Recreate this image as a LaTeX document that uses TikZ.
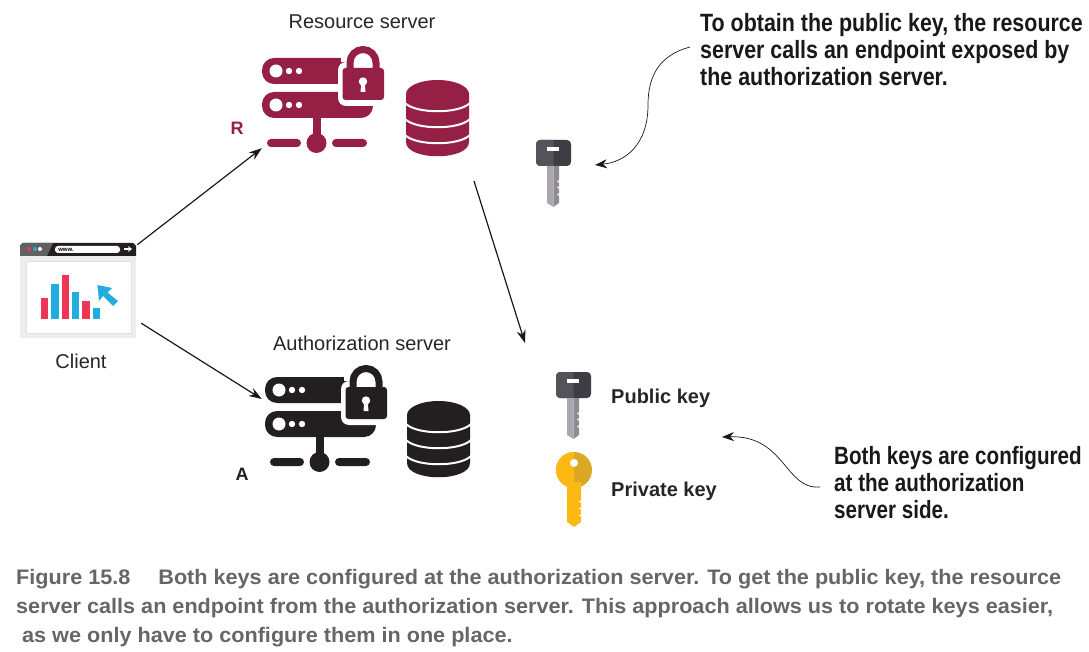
\documentclass[tikz,border=0pt]{standalone}
\usepackage{fontspec}
\setmainfont{Liberation Sans}
\newfontfamily\calloutfont[BoldFeatures={FakeStretch=.857}]{Liberation Sans}
\newfontfamily\sidenotefont[BoldFeatures={FakeStretch=.825}]{Liberation Sans}
\newfontfamily\captionfont[BoldFeatures={FakeStretch=1.03}]{Liberation Sans}
\usetikzlibrary{arrows.meta}

\definecolor{resred}{HTML}{951F45}
\definecolor{authblack}{HTML}{231F20}
\definecolor{chartred}{HTML}{EF3556}
\definecolor{chartblue}{HTML}{22ADDE}
\definecolor{headlight}{HTML}{55525A}
\definecolor{headdark}{HTML}{3E3C44}
\definecolor{shanklight}{HTML}{AAA8AE}
\definecolor{shankdark}{HTML}{8E8C92}
\definecolor{goldlight}{HTML}{FDB913}
\definecolor{golddark}{HTML}{DCA726}

\tikzset{
    iconlabel/.style={font=\fontsize{20}{24}\selectfont,text=black!85},
    keylabel/.style={font=\fontsize{20}{24}\selectfont\bfseries,text=black!85,anchor=west},
    letterlabel/.style={font=\fontsize{18}{22}\selectfont\bfseries},
    calloutlabel/.style={font=\fontsize{25}{27}\selectfont\calloutfont\bfseries,text=black!90,align=left,anchor=north west,inner sep=0pt},
    sidelabel/.style={font=\fontsize{25}{27}\selectfont\sidenotefont\bfseries,text=black!90,align=left,anchor=north west,inner sep=0pt},
    captionlabel/.style={font=\fontsize{21}{29}\selectfont\captionfont\bfseries,text=black!60,align=left,anchor=north west,inner sep=0pt},
    mainarrow/.style={-{Stealth[length=13pt,width=9pt]},line width=1.2pt,black!90},
    pics/serverbox/.style={code={
        \fill [#1,rounded corners=12] (90,12) -- (0,12) -- (0,38) -- (90,38) -- cycle;
        \fill [#1,rounded corners=12] (111,46) -- (0,46) -- (0,72) -- (111,72) -- cycle;
        \fill [#1] (111,46) rectangle (100,58);
        \foreach \y in {25,59} {
            \fill [white] (14,\y) circle (6.5);
            \fill [white] (27,\y) circle (3.2);
            \fill [white] (37,\y) circle (3.2);
        }
        \fill [white,rounded corners=8] (76,16) rectangle (130,60);
        \fill [white] (79,0) rectangle (130,16);
        \fill [white] (111,60) rectangle (130,75);
        \draw [#1,line width=7pt,rounded corners=13] (88,26) -- (88,3.5) -- (114,3.5) -- (114,26);
        \fill [#1,rounded corners=3] (80.5,22) rectangle (122,54);
        \fill [white] (101,35.5) circle (4.2);
        \fill [white] (99.3,36) -- (102.7,36) -- (103.5,46) -- (98.5,46) -- cycle;
        \fill [#1] (50.5,72) rectangle (58.5,95);
        \fill [#1] (54.5,97) circle (10);
        \fill [#1,rounded corners=4] (5,93) rectangle (39,101);
        \fill [#1,rounded corners=4] (70,93) rectangle (105,101);
    }},
    pics/databox/.style={code={
        \fill [#1] (0,14) -- (0,62) .. controls (0,81) and (63,81) .. (63,62) -- (63,14) -- cycle;
        \fill [#1] (31.5,14) ellipse (31.5 and 14);
        \foreach \y in {23,39,55}
            \draw [white,line width=2pt] (-1,\y) .. controls (10,\y+11) and (53,\y+11) .. (64,\y);
    }},
    pics/greykey/.style={code={
        \fill [headdark,rounded corners=4] (0,0) rectangle (35,26);
        \begin{scope}
            \clip (0,0) rectangle (17.5,26);
            \fill [headlight,rounded corners=4] (0,0) rectangle (35,26);
        \end{scope}
        \fill [white] (11,7) rectangle (23,11);
        \fill [shanklight] (11,26) -- (17.5,26) -- (17.5,67) -- (11,63) -- cycle;
        \fill [shankdark] (17.5,26) -- (23,26) -- (23,63) -- (17.5,67) -- cycle;
        \foreach \y in {40,46,53}
            \fill [white] (23.5,\y) -- (21,\y+1.5) -- (23.5,\y+3) -- cycle;
    }},
    pics/goldkey/.style={code={
        \fill [golddark] (18,18) circle (18);
        \begin{scope}
            \clip (0,0) rectangle (18,36);
            \fill [goldlight] (18,18) circle (18);
        \end{scope}
        \fill [white] (18,11) circle (4);
        \fill [goldlight] (11,30) -- (25,30) -- (25,70) -- (18,75) -- (11,70) -- cycle;
        \foreach \y in {48,55,62}
            \fill [white] (25.5,\y) -- (23,\y+1.5) -- (25.5,\y+3) -- cycle;
    }}
}

\begin{document}
\begin{tikzpicture}[x=1pt,y=-1pt]
    \useasboundingbox (0,0) rectangle (1089,652);

    % Client window
    \node (client) [minimum width=116pt,minimum height=95pt,inner sep=0pt,fill=black!7] at (78,290.5) {};
    \fill [authblack] (20,256) -- (20,246) -- (23,243) -- (133,243) -- (136,246) -- (136,256) -- cycle;
    \fill [black!62] (20,256) -- (20,246) -- (23,243) -- (53,243) -- (47,256) -- cycle;
    \fill [chartred] (29,249) circle (2);
    \fill [chartblue] (35,249) circle (2);
    \fill [white] (40,249) circle (2);
    \fill [white,rounded corners=3] (55,246) rectangle (120,253);
    \node (www) [font=\fontsize{6}{6}\selectfont\bfseries,inner sep=0pt] at (66,249.5) {www.};
    \draw [white,line width=1.4pt,-{Stealth[length=4pt,width=6pt]}] (124,249) -- (132,249);
    \draw [black!12,fill=white] (26,261) rectangle (131,333);
    \foreach \x/\w/\t/\c in {41/7/298/chartred,51/8/284/chartblue,62/7/275/chartred,72/7/292/chartblue,82/8/301/chartred,93/7/308/chartblue}
        \fill [\c] (\x,\t) rectangle (\x+\w,319);
    \fill [chartblue] (97.5,285) -- (112,288) -- (107.5,292.5) -- (118,301) -- (113,306) -- (103,296) -- (99,301) -- cycle;

    % Servers
    \node (rserver) [minimum width=122pt,minimum height=106pt,inner sep=0pt] at (323,99) {};
    \pic at (262,46) {serverbox=resred};
    \pic at (406,80) {databox=resred};
    \node (aserver) [minimum width=122pt,minimum height=106pt,inner sep=0pt] at (326,416) {};
    \pic at (265,365) {serverbox=authblack};
    \pic at (407,401) {databox=authblack};

    % Keys
    \pic at (536,140) {greykey};
    \pic at (556,372) {greykey};
    \pic at (556,452) {goldkey};

    \node (rname) [iconlabel] at (362,22) {Resource server};
    \node (aname) [iconlabel] at (362,343) {Authorization server};
    \node (cname) [iconlabel] at (81,361) {Client};
    \node (rletter) [letterlabel,text=resred] at (237,128) {R};
    \node (aletter) [letterlabel,text=authblack] at (242,474) {A};
    \node (pubname) [keylabel,inner sep=0pt] at (611,398) {Public key};
    \node (privname) [keylabel,inner sep=0pt] at (611,491) {Private key};

    \node (topnote) [calloutlabel] at (700,13) {To obtain the public key, the resource\\server calls an endpoint exposed by\\the authorization server.};
    \node (sidenote) [sidelabel] at (834,446) {Both keys are configured\\at the authorization\\server side.};
    \node (figcaption) [captionlabel] at (16,569) {Figure 15.8\hspace{28pt}Both keys are configured at the authorization server. To get the public key, the resource\\server calls an endpoint from the authorization server. This approach allows us to rotate keys easier,\\\hspace*{6pt}as we only have to configure them in one place.};

    \coordinate (dbout) at (474,181);
    \coordinate (pubin) at (525,343);
    \coordinate (topkeyin) at (595,165);
    \coordinate (sidekeyin) at (722,437);

    \draw [mainarrow] ([shift={(1,2)}]client.north east) -- ([shift={(0,-4)}]rserver.south west);
    \draw [mainarrow] ([shift={(5,-15)}]client.south east) -- ([shift={(-3,-17)}]aserver.west);
    \draw [mainarrow] (dbout) -- (pubin);
    \draw [-{Stealth[length=12pt,width=9pt]},line width=.7pt,black!90] ([shift={(-10,34)}]topnote.north west) .. controls (660,55) and (648,75) .. (648,105) .. controls (648,145) and (625,162) .. (topkeyin);
    \draw [-{Stealth[length=12pt,width=9pt]},line width=.7pt,black!90] ([shift={(-14,41)}]sidenote.north west) .. controls (785,490) and (785,435) .. (sidekeyin);
\end{tikzpicture}
\end{document}
